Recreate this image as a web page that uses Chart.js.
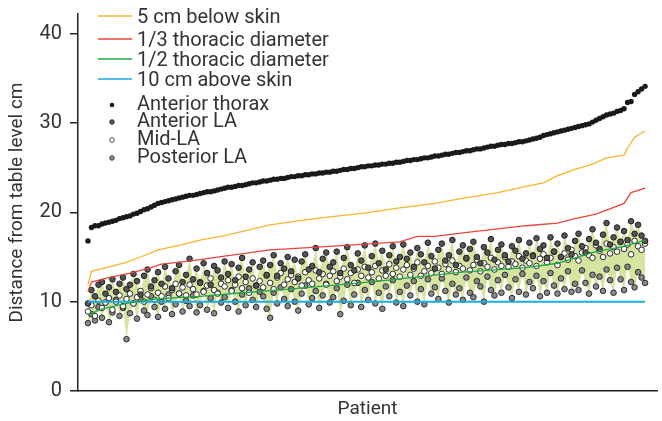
<!DOCTYPE html>
<html>
<head>
<meta charset="utf-8">
<script src="https://cdn.jsdelivr.net/npm/chart.js@4.4.0/dist/chart.umd.min.js"></script>
<style>
  html, body { margin: 0; padding: 0; background: #fff; }
</style>
</head>
<body>
<canvas id="chart" width="662" height="421"></canvas>
<script>
// Anterior thorax (skin) height per patient, sorted
const thorax = [
  16.8, 18.3, 18.5, 18.5, 18.7, 18.8, 18.9, 19.0, 19.1, 19.3,
  19.4, 19.5, 19.6, 19.8, 19.9, 20.1, 20.3, 20.4, 20.6, 20.8,
  21.0, 21.1, 21.2, 21.3, 21.4, 21.5, 21.6, 21.7, 21.8, 21.9,
  21.9, 22.0, 22.1, 22.2, 22.3, 22.3, 22.4, 22.5, 22.6, 22.7,
  22.8, 22.8, 22.9, 23.0, 23.0, 23.1, 23.2, 23.3, 23.3, 23.4,
  23.5, 23.5, 23.6, 23.7, 23.7, 23.8, 23.8, 23.9, 24.0, 24.0,
  24.1, 24.1, 24.2, 24.2, 24.3, 24.3, 24.4, 24.4, 24.5, 24.5,
  24.6, 24.6, 24.7, 24.8, 24.8, 24.9, 24.9, 25.0, 25.1, 25.1,
  25.2, 25.2, 25.3, 25.3, 25.4, 25.4, 25.5, 25.5, 25.6, 25.6,
  25.7, 25.8, 25.8, 25.9, 25.9, 26.0, 26.1, 26.1, 26.2, 26.3,
  26.3, 26.4, 26.5, 26.5, 26.6, 26.7, 26.7, 26.8, 26.9, 26.9,
  27.0, 27.1, 27.1, 27.2, 27.3, 27.4, 27.4, 27.5, 27.6, 27.6,
  27.7, 27.7, 27.8, 27.9, 27.9, 28.0, 28.1, 28.2, 28.3, 28.4,
  28.6, 28.7, 28.8, 28.9, 29.0, 29.1, 29.2, 29.3, 29.4, 29.5,
  29.6, 29.7, 29.8, 29.9, 30.1, 30.3, 30.5, 30.7, 30.9, 31.0,
  31.1, 31.3, 31.4, 31.6, 32.3, 32.4, 33.2, 33.5, 33.8, 34.1
];

const anteriorLA = [
  9.8, 11.3, 10.6, 11.9, 12.2, 10.9, 11.6, 12.5, 11.1, 12.0,
  12.7, 11.4, 11.9, 13.1, 12.3, 10.8, 12.9, 13.6, 11.7, 12.4,
  13.3, 12.0, 13.9, 12.6, 11.5, 13.4, 14.1, 12.2, 13.0, 14.8,
  12.5, 13.7, 12.1, 14.3, 13.2, 11.9, 14.0, 13.5, 12.7, 14.5,
  13.1, 14.2, 12.4, 13.8, 14.9, 12.8, 13.6, 14.4, 11.8, 13.9,
  14.6, 13.0, 14.1, 15.2, 12.9, 14.3, 13.7, 15.0, 13.4, 14.7,
  12.6, 14.5, 15.3, 13.6, 14.0, 16.0, 13.3, 14.8, 15.5, 13.9,
  14.4, 15.6, 13.2, 14.9, 16.1, 14.1, 13.5, 15.4, 14.6, 16.3,
  13.8, 15.1, 16.5, 14.3, 15.7, 13.6, 15.2, 16.2, 14.5, 15.0,
  16.4, 14.8, 15.5, 13.9, 16.0, 15.3, 14.4, 16.6, 15.1, 13.7,
  15.8, 16.5, 14.6, 15.2, 16.9, 14.1, 15.6, 16.3, 14.9, 15.9,
  16.7, 15.0, 14.3, 16.1, 15.5, 17.0, 14.7, 15.8, 16.4, 15.2,
  14.5, 16.2, 15.7, 16.9, 14.8, 15.4, 16.6, 15.1, 17.1, 15.9,
  16.3, 14.9, 17.2, 15.6, 16.5, 15.0, 17.4, 16.0, 15.3, 16.8,
  17.6, 16.2, 15.5, 17.0, 18.1, 16.6, 15.9, 17.5, 18.8, 16.4,
  17.2, 18.3, 16.7, 17.9, 16.9, 19.0, 17.6, 18.6, 17.4, 16.8
];

const midLA = [
  8.9, 9.6, 8.4, 10.1, 9.3, 9.9, 10.4, 9.1, 10.0, 10.7,
  9.5, 10.3, 10.9, 9.8, 10.5, 11.2, 10.0, 10.8, 11.5, 10.2,
  11.0, 10.6, 11.7, 10.4, 11.3, 12.0, 10.9, 11.6, 10.7, 11.9,
  11.4, 10.8, 12.2, 11.1, 11.8, 12.6, 11.3, 10.9, 12.0, 11.7,
  12.4, 11.2, 11.9, 12.8, 11.5, 12.2, 11.0, 12.6, 11.8, 12.3,
  11.6, 12.9, 12.1, 11.4, 12.7, 13.2, 11.9, 12.5, 13.0, 12.2,
  12.8, 11.8, 13.3, 12.4, 12.0, 13.5, 12.6, 13.1, 11.9, 12.9,
  13.4, 12.3, 12.8, 13.7, 12.5, 13.2, 12.1, 13.6, 12.9, 13.9,
  12.7, 13.3, 14.0, 12.6, 13.5, 12.9, 14.2, 13.1, 13.8, 12.8,
  13.6, 14.1, 13.0, 13.7, 14.4, 12.9, 13.4, 14.0, 13.2, 14.5,
  13.8, 13.1, 14.2, 13.6, 14.6, 13.3, 14.0, 13.7, 14.8, 13.5,
  14.1, 14.7, 13.4, 14.3, 13.9, 14.9, 13.6, 14.4, 14.0, 15.0,
  13.9, 14.5, 14.2, 15.1, 13.8, 14.6, 14.3, 15.2, 14.0, 14.8,
  15.3, 14.4, 14.9, 15.6, 14.1, 15.0, 15.4, 14.7, 15.8, 15.1,
  14.6, 15.5, 16.0, 15.2, 14.9, 16.3, 15.7, 15.0, 16.5, 15.4,
  16.1, 15.6, 16.7, 15.9, 16.4, 15.3, 16.8, 16.2, 15.8, 16.5
];

const posteriorLA = [
  7.6, 8.6, 7.9, 9.4, 8.2, 9.9, 7.7, 8.8, 10.2, 8.4,
  9.3, 5.8, 8.7, 9.8, 8.1, 10.3, 9.0, 8.5, 10.6, 9.4,
  8.3, 10.0, 9.2, 10.8, 8.6, 9.7, 10.9, 8.9, 10.1, 9.5,
  10.7, 8.8, 9.6, 11.2, 9.1, 10.4, 8.7, 11.0, 9.9, 10.5,
  9.3, 11.3, 10.0, 8.9, 10.8, 9.6, 11.5, 10.2, 9.4, 11.1,
  10.6, 9.2, 8.2, 11.0, 9.8, 11.6, 10.3, 9.5, 11.4, 10.0,
  9.0, 10.9, 11.8, 9.7, 10.4, 11.2, 9.3, 10.7, 12.0, 9.9,
  10.5, 11.5, 8.6, 10.1, 11.9, 9.6, 10.8, 12.1, 9.4, 11.3,
  10.2, 12.2, 9.8, 11.0, 9.2, 11.7, 10.6, 12.4, 9.9, 11.1,
  9.5, 11.8, 10.7, 12.3, 10.0, 11.4, 9.7, 12.5, 10.9, 11.6,
  10.3, 12.6, 11.2, 9.9, 12.0, 10.8, 11.5, 10.2, 12.7, 11.0,
  10.5, 12.3, 11.7, 10.0, 12.8, 11.3, 10.7, 12.4, 11.0, 13.0,
  11.6, 10.4, 12.5, 11.1, 13.1, 10.8, 12.2, 11.5, 12.9, 10.6,
  12.3, 11.0, 13.2, 11.8, 10.9, 12.6, 11.4, 13.4, 11.1, 12.0,
  11.3, 13.5, 12.1, 10.9, 13.0, 11.7, 12.8, 11.2, 13.6, 12.4,
  11.0, 13.8, 12.5, 11.3, 13.9, 12.2, 11.6, 13.3, 12.7, 12.1
];

// reference lines, read at selected patient numbers
const below5At = [1, 2, 7, 12, 16, 21, 27, 33, 40, 53, 62, 70, 80, 90, 100, 107, 118, 126, 131, 135, 140, 145, 149, 154, 155, 157, 160];
const below5   = [11.9, 13.4, 13.9, 14.4, 15.0, 15.8, 16.3, 16.9, 17.4, 18.6, 19.1, 19.5, 19.9, 20.5, 21.0, 21.5, 22.2, 22.9, 23.3, 24.1, 24.8, 25.4, 26.1, 26.4, 27.2, 28.4, 29.1];

const thirdAt = [1, 2, 7, 13, 19, 22, 31, 40, 53, 70, 90, 95, 100, 108, 126, 135, 140, 146, 154, 156, 160];
const third   = [11.1, 12.2, 12.7, 13.2, 13.8, 14.2, 14.6, 15.1, 15.8, 16.2, 16.7, 17.3, 17.3, 17.7, 18.5, 18.8, 19.3, 19.8, 21.0, 22.2, 22.7];

const halfAt = [1, 5, 12, 20, 33, 45, 55, 70, 84, 96, 108, 126, 135, 146, 154, 160];
const half   = [8.5, 9.2, 9.8, 10.3, 10.6, 11.0, 11.3, 11.8, 12.3, 12.8, 13.3, 13.8, 14.3, 15.6, 16.2, 16.9];

const above10At = [1, 160];
const above10   = [10, 10];

const yTicks = [0, 10, 20, 30, 40];

function pts(ys) { return ys.map((v, i) => ({ x: i + 1, y: v })); }
function linePts(xs, ys) { return xs.map((x, i) => ({ x: x, y: ys[i] })); }

const FONT = 'Roboto';
const TEXT = '#333';

// legend drawn as a vertical list at top left of the plot
const sideLegend = {
  id: 'sideLegend',
  afterDraw(chart) {
    const ctx = chart.ctx;
    const rows = [23, 46, 66, 86, 110, 127, 145, 163];
    ctx.save();
    ctx.font = '20px ' + FONT;
    ctx.textBaseline = 'alphabetic';
    chart.data.datasets.forEach((ds, i) => {
      const y = rows[i];
      if (ds.showLine !== false) {
        ctx.strokeStyle = ds.borderColor;
        ctx.lineWidth = 1.3;
        ctx.beginPath();
        ctx.moveTo(98, y - 7);
        ctx.lineTo(132, y - 7);
        ctx.stroke();
      } else {
        ctx.beginPath();
        ctx.arc(112, y - 5, 2.3, 0, Math.PI * 2);
        ctx.fillStyle = ds.pointBackgroundColor;
        ctx.fill();
        if (ds.pointBorderWidth) {
          ctx.lineWidth = 0.8;
          ctx.strokeStyle = ds.pointBorderColor;
          ctx.stroke();
        }
      }
      ctx.fillStyle = TEXT;
      ctx.fillText(ds.label, 137, y);
    });
    ctx.restore();
  }
};

new Chart(document.getElementById('chart'), {
  type: 'line',
  data: {
    datasets: [
      { label: '5 cm below skin', data: linePts(below5At, below5), borderColor: '#f4b62c', borderWidth: 1.3, pointRadius: 0, fill: false },
      { label: '1/3 thoracic diameter', data: linePts(thirdAt, third), borderColor: '#e8453a', borderWidth: 1.3, pointRadius: 0, fill: false },
      { label: '1/2 thoracic diameter', data: linePts(halfAt, half), borderColor: '#1fa84a', borderWidth: 1.3, pointRadius: 0, fill: false },
      { label: '10 cm above skin', data: linePts(above10At, above10), borderColor: '#19ade2', borderWidth: 2, pointRadius: 0, fill: false },
      { label: 'Anterior thorax', data: pts(thorax), showLine: false, pointRadius: 2.7, pointBackgroundColor: '#1a1a1a', pointBorderWidth: 0, fill: false },
      { label: 'Anterior LA', data: pts(anteriorLA), showLine: false, pointRadius: 2.8, pointBackgroundColor: '#555555', pointBorderColor: '#1e1e1e', pointBorderWidth: 1, backgroundColor: '#d5e5a0', fill: 7 },
      { label: 'Mid-LA', data: pts(midLA), showLine: false, pointRadius: 2.8, pointBackgroundColor: '#ffffff', pointBorderColor: '#2a2a2a', pointBorderWidth: 1, fill: false },
      { label: 'Posterior LA', data: pts(posteriorLA), showLine: false, pointRadius: 2.8, pointBackgroundColor: '#8a8a8a', pointBorderColor: '#2a2a2a', pointBorderWidth: 1, fill: false }
    ]
  },
  options: {
    responsive: false,
    devicePixelRatio: 1,
    animation: false,
    layout: { padding: { top: 14, right: 1, bottom: 0, left: 0 } },
    elements: { line: { tension: 0 } },
    scales: {
      x: {
        type: 'linear',
        min: -1.84,
        max: 163.4,
        ticks: { display: false },
        grid: { display: false },
        border: { color: '#222', width: 1.5 },
        title: { display: true, text: 'Patient', color: TEXT, font: { family: FONT, size: 19 }, padding: { top: 4, bottom: 0 } },
        afterFit(scale) { scale.height = 30; }
      },
      y: {
        min: 0,
        max: 42.2,
        afterBuildTicks(scale) { scale.ticks = yTicks.map(v => ({ value: v })); },
        ticks: { color: TEXT, font: { family: FONT, size: 20 }, padding: 8 },
        grid: { drawOnChartArea: false, drawTicks: true, tickLength: 8, color: '#222', lineWidth: 1.5 },
        border: { color: '#222', width: 1.5 },
        title: { display: true, text: 'Distance from table level cm', color: TEXT, font: { family: FONT, size: 19 }, padding: { top: 6, bottom: 0 } },
        afterFit(scale) { scale.width = 78; scale.paddingTop = 0; scale.paddingBottom = 0; }
      }
    },
    plugins: {
      legend: { display: false },
      tooltip: { enabled: false },
      filler: { drawTime: 'beforeDatasetsDraw' }
    }
  },
  plugins: [sideLegend]
});
</script>
</body>
</html>
